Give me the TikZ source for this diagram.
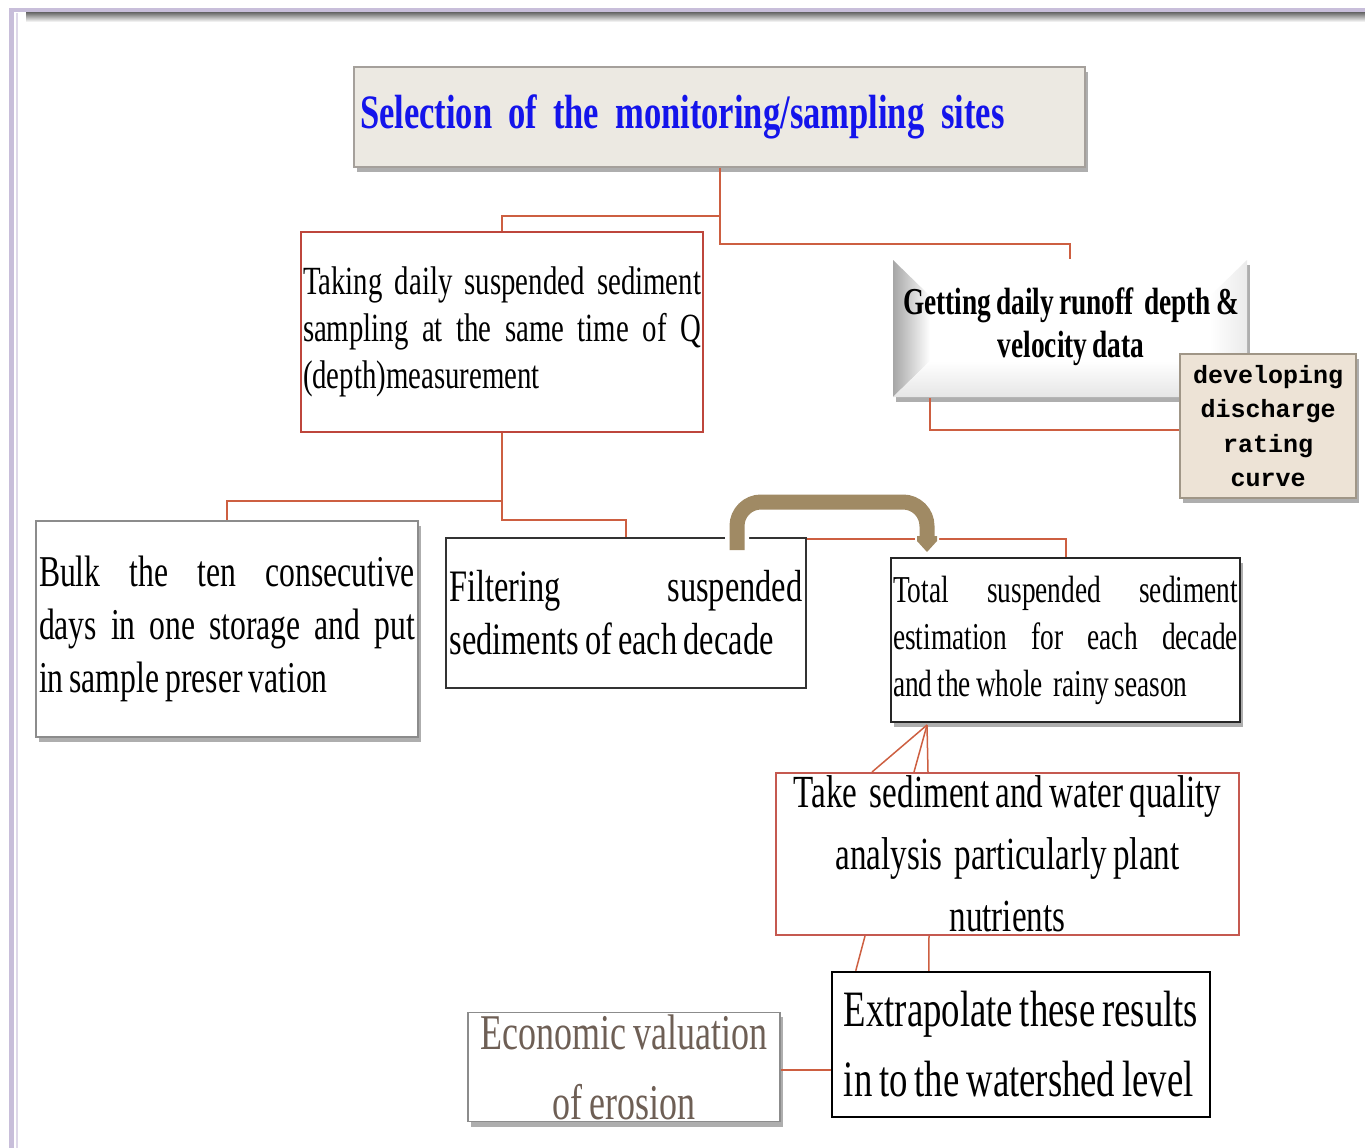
\documentclass[tikz,border=0pt]{standalone}
\usepackage{fontspec}
\setmainfont{Liberation Serif}[FakeStretch=0.72,WordSpace=0.75]
\setmonofont{Liberation Mono}
\usetikzlibrary{shadows,arrows.meta,calc}
\definecolor{lineC}{RGB}{205,95,65}
\definecolor{redB}{RGB}{190,70,60}
\definecolor{titleFill}{RGB}{236,233,226}
\definecolor{titleBorder}{RGB}{165,160,155}
\definecolor{devFill}{RGB}{237,227,214}
\definecolor{devBorder}{RGB}{160,150,135}
\definecolor{brownA}{RGB}{160,138,100}
\definecolor{econText}{RGB}{110,95,85}
\definecolor{titleBlue}{RGB}{20,20,235}
\definecolor{frameC}{RGB}{200,190,218}
\newcommand\jline[2]{\makebox[#1][s]{#2}}
\tikzset{
  conn/.style={draw=lineC, line width=2pt},
  boxbase/.style={rectangle, inner sep=2pt, line width=2pt},
  shad/.style={drop shadow={shadow xshift=3pt, shadow yshift=-5pt, opacity=0.45, fill=black!70}},
}
\begin{document}
\begin{tikzpicture}[x=1pt,y=-1pt]
\useasboundingbox (0,0) rectangle (1365,1148);
% frame
\fill[frameC] (9,8) rectangle (1365,12);
\fill[frameC] (9,8) rectangle (14,1148);
\shade[top color=black!55, bottom color=white] (26,13) rectangle (1365,22);
\fill[frameC!60] (16,13) rectangle (18,1148);

% title
\node[boxbase, shad, draw=titleBorder, fill=titleFill, line width=1.5pt,
      minimum width=731pt, minimum height=100pt, text width=719pt, align=left,
      font=\fontsize{48}{50}\selectfont\bfseries, text=titleBlue] (title) at (719.5,117)
  {Selection of the monitoring/sampling\hspace{0.35em}sites};

% taking
\node[boxbase, fill=white, draw=redB, minimum width=402pt, minimum height=200pt,
      align=left, font=\fontsize{40}{47}\selectfont] (taking) at (502,332)
  {\jline{398pt}{Taking daily suspended sediment}\\
   \jline{398pt}{sampling at the same time of Q}\\
   (depth)measurement};

% getting
\node[boxbase, shad, fill=white, draw=none, minimum width=354pt, minimum height=137pt] (getting) at (1070,328.5) {};
\shade[left color=black!35, right color=white] (893,260) -- (930,296) -- (930,361) -- (893,397) -- cycle;
\shade[top color=white, bottom color=black!10] (893,397) -- (930,361) -- (1210,361) -- (1247,397) -- cycle;
\shade[left color=white, right color=black!8] (1247,260) -- (1210,296) -- (1210,361) -- (1247,397) -- cycle;
\node[font=\fontsize{38}{43}\selectfont\bfseries, align=center, inner sep=0] (gettingtext) at (1071,327)
  {Getting daily runoff\ \ depth \&\\velocity data};

% connectors top
\draw[conn] (title.south) -- ++(0,48) -| (taking.north);
\draw[conn] (title.south) -- ++(0,76) -| (getting.north);
\coordinate (gbot) at ($(getting.south west)+(38,0)$);

% developing
\node[boxbase, shad, fill=devFill, draw=devBorder, line width=1.5pt, minimum width=176pt, minimum height=144pt,
      align=center, font=\fontsize{25}{34.5}\selectfont\ttfamily\bfseries] (develop) at (1268,426)
  {developing\\discharge\\rating\\curve};
\draw[conn] (gbot) |- ($(develop.west)+(0,4)$);

% bulk
\node[boxbase, shad, fill=white, draw=black!45, line width=1.5pt, minimum width=382pt, minimum height=216pt,
      align=left, font=\fontsize{44}{53}\selectfont] (bulk) at (227,629)
  {\jline{376pt}{Bulk the ten consecutive}\\
   \jline{376pt}{days in one storage and put}\\
   in sample preser vation};

% filtering
\node[boxbase, fill=white, draw=black!80, line width=1.5pt, minimum width=360pt, minimum height=150pt,
      align=left, font=\fontsize{45}{53}\selectfont] (filter) at (626,613)
  {\jline{353pt}{Filtering suspended}\\
   sediments of each decade};

% total
\node[boxbase, shad, fill=white, draw=black!85, line width=2pt, minimum width=349pt, minimum height=164pt,
      align=left, font=\fontsize{38}{47}\selectfont] (total) at (1065.5,640)
  {\jline{345pt}{Total suspended sediment}\\
   \jline{345pt}{estimation for each decade}\\
   and the whole\ \ rainy season};

\draw[conn] (taking.south) -- ++(0,68) -| (bulk.north);
\draw[conn] (taking.south) -- ++(0,87) -| (filter.north);
\draw[conn] ($(filter.north east)+(0,2)$) -| (total.north);

% brown curved arrow
\coordinate (bs) at (737,553);
\coordinate (be) at (927,560);
\draw[white, line width=24pt, rounded corners=26pt] (bs) -- (737,502) -- (927,502) -- ($(be)+(0,-10)$);
\draw[brownA, line width=15pt, rounded corners=24pt] (737,550) -- (737,502) -- (927,502) -- (927,538);
\fill[brownA] (917,536) -- (937,536) -- (937,541) -- (927,552) -- (917,541) -- cycle;

% take
\node[boxbase, fill=white, draw=redB!90, minimum width=463pt, minimum height=162pt,
      align=center, font=\fontsize{46}{62}\selectfont] (take) at (1007.5,854)
  {Take\ \ sediment and water quality\\
   analysis\ \ particularly plant\\
   nutrients};

\coordinate (apex) at ($(total.south west)+(37,2)$);
\draw[conn, line width=1.5pt] (apex) -- ($(take.north west)+(97,0)$);
\draw[conn, line width=1.5pt] (apex) -- ($(take.north west)+(139,0)$);
\draw[conn, line width=1.5pt] (apex) -- ($(take.north west)+(153,0)$);

% extrapolate
\node[boxbase, fill=white, draw=black, line width=2.5pt, minimum width=378pt, minimum height=145pt,
      align=left, font=\fontsize{51}{70}\selectfont] (extra) at (1021,1044.5)
  {Extrapolate these results\\in to the watershed level};

\draw[conn, line width=1.5pt] ($(take.south west)+(90,0)$) -- ($(extra.north west)+(25,0)$);
\draw[conn, line width=1.5pt] ($(take.south west)+(154,0)$) -- ($(extra.north west)+(98,0)$);

% economic
\node[boxbase, shad, fill=white, draw=black!45, line width=1.5pt, minimum width=312pt, minimum height=106pt,
      align=center, font=\fontsize{50}{70}\selectfont, text=econText] (econ) at (624,1067)
  {Economic valuation\\of erosion};

\draw[conn] ($(extra.west)+(0,25)$) -- (econ.east |- {$(extra.west)+(0,25)$});
\end{tikzpicture}
\end{document}
